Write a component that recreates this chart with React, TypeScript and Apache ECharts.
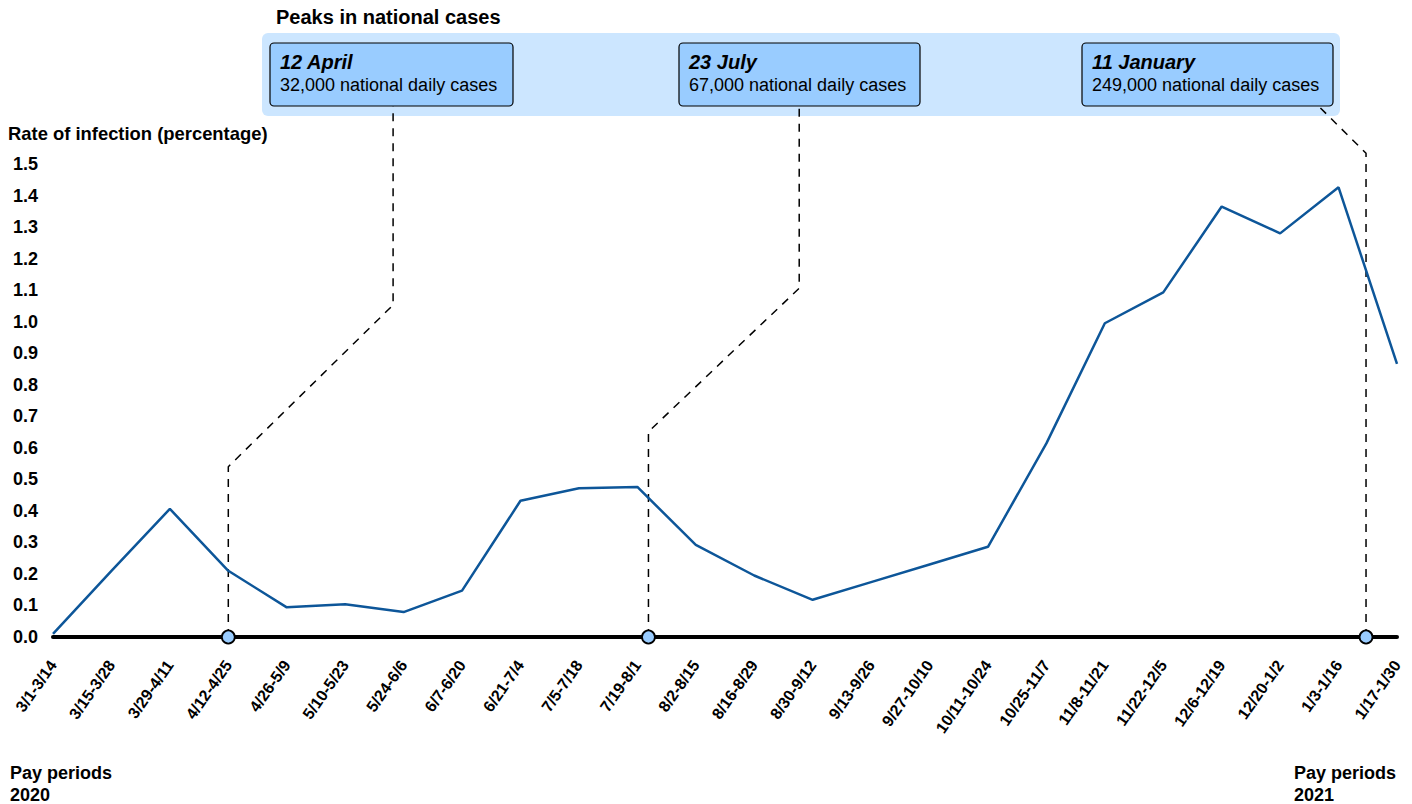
import React, { useEffect, useRef } from "react";
import * as echarts from "echarts";

const categories = [
  "3/1-3/14", "3/15-3/28", "3/29-4/11", "4/12-4/25", "4/26-5/9", "5/10-5/23",
  "5/24-6/6", "6/7-6/20", "6/21-7/4", "7/5-7/18", "7/19-8/1", "8/2-8/15",
  "8/16-8/29", "8/30-9/12", "9/13-9/26", "9/27-10/10", "10/11-10/24", "10/25-11/7",
  "11/8-11/21", "11/22-12/5", "12/6-12/19", "12/20-1/2", "1/3-1/16", "1/17-1/30",
];
const infectionRate = [
  0.01, 0.21, 0.406, 0.21, 0.094, 0.104, 0.079, 0.147, 0.432, 0.472, 0.476, 0.292,
  0.195, 0.118, 0.174, 0.23, 0.286, 0.614, 0.995, 1.093, 1.365, 1.28, 1.426, 0.866,
];
const yTicks = [0, 0.1, 0.2, 0.3, 0.4, 0.5, 0.6, 0.7, 0.8, 0.9, 1.0, 1.1, 1.2, 1.3, 1.4, 1.5];

const peakDates = ["12 April", "23 July", "11 January"];
const peakCases = [
  "32,000 national daily cases",
  "67,000 national daily cases",
  "249,000 national daily cases",
];
// peak positions on the pay-period axis (fractional period index)
const peakIndex = [3.0, 10.19, 22.47];
const connector1 = [[3.0, 0], [3.0, 0.54], [5.82, 1.053], [5.82, 1.684]];
const connector2 = [[10.19, 0], [10.19, 0.651], [12.77, 1.106], [12.77, 1.684]];
const connector3 = [[22.47, 0], [22.47, 1.534], [21.65, 1.685]];

const FONT = '"Liberation Sans", Arial, sans-serif';

export default function App() {
  const ref = useRef<HTMLDivElement>(null);
  useEffect(() => {
    if (!ref.current) return;
    const chart = echarts.init(ref.current, null, { renderer: "svg" });

    const boxes = [
      { x: 270, w: 243 },
      { x: 679, w: 241 },
      { x: 1082, w: 251 },
    ];
    const graphics: any[] = [
      {
        type: "text",
        x: 276,
        y: 17,
        style: { text: "Peaks in national cases", font: `bold 20px ${FONT}`, fill: "#000", verticalAlign: "middle" },
      },
      {
        type: "rect",
        shape: { x: 262, y: 33, width: 1078, height: 83, r: 6 },
        style: { fill: "#cce6ff" },
        z: 0,
      },
      {
        type: "text",
        x: 8,
        y: 133,
        style: { text: "Rate of infection (percentage)", font: `bold 18.4px ${FONT}`, fill: "#000", verticalAlign: "middle" },
      },
      {
        type: "text",
        x: 10,
        y: 784,
        style: { text: "Pay periods\n2020", font: `bold 18px ${FONT}`, fill: "#000", verticalAlign: "middle", lineHeight: 22 },
      },
      {
        type: "text",
        x: 1294,
        y: 784,
        style: { text: "Pay periods\n2021", font: `bold 18px ${FONT}`, fill: "#000", verticalAlign: "middle", lineHeight: 22 },
      },
    ];
    boxes.forEach((b, i) => {
      graphics.push({
        type: "rect",
        shape: { x: b.x, y: 43, width: b.w, height: 63, r: 4 },
        style: { fill: "#99ccff", stroke: "#000", lineWidth: 1.2 },
        z: 1,
      });
      graphics.push({
        type: "text",
        x: b.x + 10,
        y: 62,
        z: 2,
        style: { text: peakDates[i], font: `italic bold 20px ${FONT}`, fill: "#000", verticalAlign: "middle" },
      });
      graphics.push({
        type: "text",
        x: b.x + 10,
        y: 85,
        z: 2,
        style: { text: peakCases[i], font: `18px ${FONT}`, fill: "#000", verticalAlign: "middle" },
      });
    });

    const dashed = (data: number[][]) => ({
      type: "line",
      xAxisIndex: 1,
      yAxisIndex: 0,
      data,
      symbol: "none",
      clip: false,
      silent: true,
      z: 2,
      lineStyle: { color: "#000", width: 1.5, type: [8, 7] },
    });

    chart.setOption({
      animation: false,
      backgroundColor: "#fff",
      grid: { left: 53, right: 15, top: 164, bottom: 167, containLabel: false },
      xAxis: [
        {
          type: "category",
          data: categories,
          boundaryGap: false,
          axisLine: { show: true, lineStyle: { color: "#000", width: 4 } },
          axisTick: { show: false },
          splitLine: { show: false },
          axisLabel: {
            interval: 0,
            rotate: 55,
            margin: 25,
            color: "#000",
            fontWeight: "bold",
            fontSize: 16,
            fontFamily: FONT,
          },
        },
        {
          type: "value",
          min: 0,
          max: 23,
          show: false,
          gridIndex: 0,
        },
      ],
      yAxis: {
        type: "value",
        min: 0,
        max: 1.5,
        interval: 0.1,
        axisLine: { show: false },
        axisTick: { show: false },
        splitLine: { show: false },
        axisLabel: {
          margin: 40,
          align: "left",
          color: "#000",
          fontWeight: "bold",
          fontSize: 18,
          fontFamily: FONT,
          formatter: (v: number) => {
            const t = yTicks.find((k) => Math.abs(k - v) < 1e-6);
            return (t !== undefined ? t : v).toFixed(1);
          },
        },
      },
      graphic: graphics,
      series: [
        dashed(connector1),
        dashed(connector2),
        dashed(connector3),
        {
          type: "line",
          data: infectionRate,
          xAxisIndex: 0,
          yAxisIndex: 0,
          symbol: "none",
          z: 3,
          lineStyle: { color: "#0d5699", width: 2.5 },
        },
        {
          type: "scatter",
          xAxisIndex: 1,
          yAxisIndex: 0,
          data: peakIndex.map((x) => [x, 0]),
          symbol: "circle",
          symbolSize: 13,
          clip: false,
          z: 4,
          itemStyle: { color: "#99ccff", borderColor: "#000", borderWidth: 1.8, opacity: 1 },
        },
      ],
    });
    return () => chart.dispose();
  }, []);
  return (
    <div
      ref={ref}
      style={{ position: "fixed", left: 0, top: 0, width: 1412, height: 804 }}
    />
  );
}
